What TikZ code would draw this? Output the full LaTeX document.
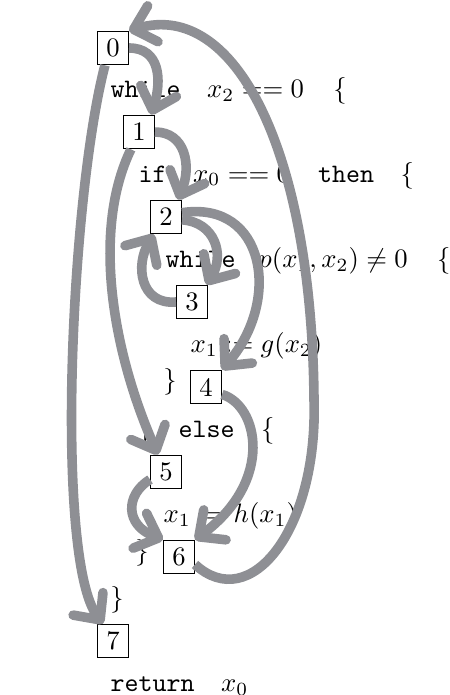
\documentclass[tikz,border=0pt]{standalone}
\usetikzlibrary{arrows.meta}
\definecolor{arrgray}{RGB}{142,143,148}
\begin{document}
\begin{tikzpicture}[x=0.375pt,y=-0.375pt,
  numbox/.style={draw,line width=0.4pt,minimum width=11.6pt,minimum height=12.6pt,inner sep=0pt},
  code/.style={anchor=base west,inner sep=0pt},
  bracenode/.style={inner sep=0pt},
  flow/.style={draw=arrgray,line width=3.6pt,-{Straight Barb[length=7.5pt,width=14pt,round]}}]
\useasboundingbox (0,0) rectangle (449,695);
% boxes
\node[numbox] (n0) at (113,48) {0};
\node[numbox] (n1) at (139,132) {1};
\node[numbox] (n2) at (166,217) {2};
\node[numbox] (n3) at (192,302) {3};
\node[numbox] (n4) at (206,387) {4};
\node[numbox] (n5) at (166,472) {5};
\node[numbox] (n6) at (179,557) {6};
\node[numbox] (n7) at (113,641) {7};
% code
\node[code] (l1) at (110,98) {\texttt{while}\hspace{10pt}$x_2 == 0$\hspace{11pt}$\{$};
\node[code] (l2) at (138,182) {\texttt{if}\hspace{10pt}$x_0 == 0$\hspace{10.5pt}\texttt{then}\hspace{10pt}$\{$};
\node[code] (l3) at (165,267) {\texttt{while}\hspace{8.6pt}$p(x_1,x_2)\neq 0$\hspace{11pt}$\{$};
\node[code] (l4) at (190,352) {$x_1 := g(x_2)$};
\node[bracenode] (b4) at (170,382) {$\}$};
\node[code] (l5) at (138,437) {$\}$\hspace{10pt}\texttt{else}\hspace{10pt}$\{$};
\node[code] (l6) at (163,522) {$x_1 := h(x_1)$};
\node[bracenode] (b6) at (142,553) {$\}$};
\node[bracenode] (b7) at (117,600) {$\}$};
\node[code] (l7) at (110,691) {\texttt{return}\hspace{10pt}$x_0$};
% arrows
\draw[flow] (n0.east) .. controls (160,48) and (162,80) .. (n1.55);
\draw[flow] (n1.east) .. controls (185,132) and (192,165) .. (n2.55);
\draw[flow] (n2.-10) .. controls (215,222) and (225,255) .. (n3.50);
\draw[flow] (n3.west) .. controls (140,305) and (135,265) .. (n2.-125);
\draw[flow] (n2.15) .. controls (265,200) and (282,300) .. (n4.north east);
\draw[flow] (n1.-115) .. controls (92,230) and (112,350) .. (n5.115);
\draw[flow] (n4.-25) .. controls (258,405) and (275,480) .. (n6.north east);
\draw[flow] (n5.-155) .. controls (125,495) and (125,525) .. (n6.north west);
\draw[flow] (n6.-25) .. controls (250,615) and (318,530) .. (314,400)
                    .. controls (312,150) and (235,0) .. (n0.north east);
\draw[flow] (n0.-115) .. controls (70,200) and (55,560) .. (n7.120);
\end{tikzpicture}
\end{document}
